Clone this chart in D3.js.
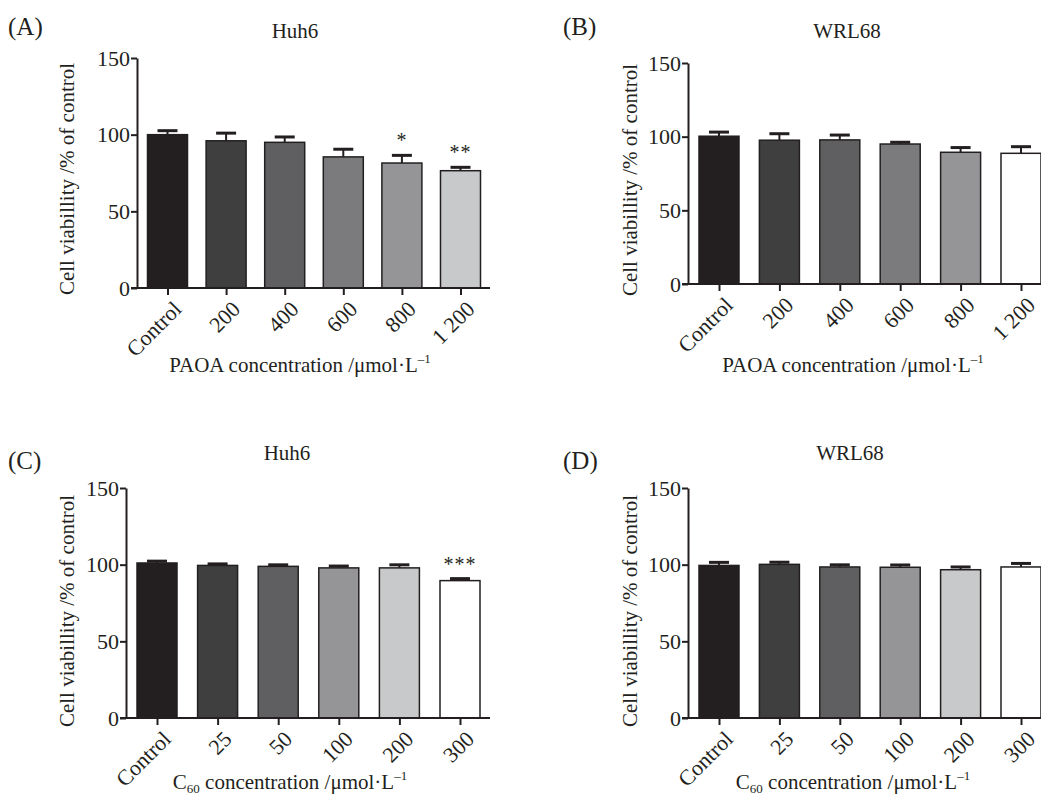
<!DOCTYPE html>
<html>
<head>
<meta charset="utf-8">
<script src="https://cdn.jsdelivr.net/npm/d3@7"></script>
<style>
body{margin:0;background:#fff;}
svg text{font-family:"Liberation Serif","Times New Roman",Times,"DejaVu Serif",serif !important;fill:#231f20;}
</style>
</head>
<body>
<svg id="fig" width="1041" height="798" font-family="Liberation Serif, serif"></svg>
<script>
// categories
var paoaCats=["Control","200","400","600","800","1 200"];
var c60Cats=["Control","25","50","100","200","300"];
// means (% of control) and upper error (SD)
var huhPaoa=[100,96,95,85.5,81.5,76.5];
var huhPaoaErr=[2.6,5,3.5,5,5,2.2];
var wrlPaoa=[100.3,97.6,97.8,95,89.4,88.7];
var wrlPaoaErr=[2.8,4.4,3.3,1.2,3.2,4.5];
var huhC60=[101.1,99.5,98.9,97.9,97.9,89.6];
var huhC60Err=[1.2,1,1,1.2,2,1.3];
var wrlC60=[99.5,100.2,98.5,98.3,96.7,98.5];
var wrlC60Err=[2,1.4,1.4,1.5,1.8,2.3];
// significance marks
var huhPaoaStars=["","","","","*","**"];
var huhC60Stars=["","","","","","***"];
var noStars=["","","","","",""];
var yTicks=[0,50,100,150];
// grey fills
var fillsA=["#231f20","#3f3f3f","#5f5f61","#7b7b7d","#959597","#c8c9cb"];
var fillsB=["#231f20","#3f3f3f","#5f5f61","#7b7b7d","#959597","#ffffff"];
var fillsC=["#231f20","#3f3f3f","#5f5f61","#959597","#c8c9cb","#ffffff"];

var svg=d3.select("#fig");
var ink="#231f20";
var serif="Liberation Serif";

function panel(p){
	var g=svg.append("g").attr("font-family",serif);
	var x=d3.scalePoint().domain(p.cats).range([p.c0,p.c1]);
	var y=d3.scaleLinear().domain([0,150]).range([p.y0,p.y150]);
	var bw=40;
	var data=p.cats.map(function(c,i){return {c:c,v:p.vals[i],e:p.errs[i],f:p.fills[i],s:p.stars[i]};});

	// bars
	g.selectAll("rect.bar").data(data).enter().append("rect")
		.attr("x",function(d){return x(d.c)-bw/2;})
		.attr("y",function(d){return y(d.v);})
		.attr("width",bw)
		.attr("height",function(d){return y(0)-y(d.v);})
		.attr("fill",function(d){return d.f;})
		.attr("stroke",ink).attr("stroke-width",1.5);
	// error bars (upper only)
	g.selectAll("line.stem").data(data).enter().append("line")
		.attr("x1",function(d){return x(d.c);}).attr("x2",function(d){return x(d.c);})
		.attr("y1",function(d){return y(d.v);}).attr("y2",function(d){return y(d.v+d.e);})
		.attr("stroke",ink).attr("stroke-width",2);
	g.selectAll("line.cap").data(data).enter().append("line")
		.attr("x1",function(d){return x(d.c)-10;}).attr("x2",function(d){return x(d.c)+10;})
		.attr("y1",function(d){return y(d.v+d.e);}).attr("y2",function(d){return y(d.v+d.e);})
		.attr("stroke",ink).attr("stroke-width",3);
	// stars
	g.selectAll("text.star").data(data.filter(function(d){return d.s;})).enter().append("text")
		.attr("x",function(d){return x(d.c);})
		.attr("y",function(d){return y(d.v+d.e)-8;})
		.attr("text-anchor","middle").attr("font-size",20)
		.style("letter-spacing","1px")
		.text(function(d){return d.s;});

	// y axis
	var ya=g.append("g").attr("transform","translate("+p.ax+",0)")
		.call(d3.axisLeft(y).tickValues(yTicks).tickSize(6).tickSizeOuter(0).tickPadding(1));
	ya.attr("font-family",serif).attr("font-size",22);
	ya.select(".domain").attr("stroke",ink).attr("stroke-width",2);
	ya.selectAll(".tick line").attr("stroke",ink).attr("stroke-width",2);
	ya.selectAll(".tick text").attr("fill",ink);

	// x axis
	g.append("line").attr("x1",p.ax-6).attr("x2",p.xEnd).attr("y1",y(0)).attr("y2",y(0))
		.attr("stroke",ink).attr("stroke-width",2);
	var xa=g.append("g").attr("transform","translate(0,"+y(0)+")")
		.call(d3.axisBottom(x).tickSize(7).tickSizeOuter(0).tickFormat(""));
	xa.select(".domain").remove();
	xa.selectAll(".tick line").attr("stroke",ink).attr("stroke-width",2);
	g.selectAll("text.xl").data(p.cats).enter().append("text")
		.attr("transform",function(c){return "translate("+(x(c)+10)+","+(y(0)+17)+") rotate(-45)";})
		.attr("text-anchor","end").attr("dy","0.35em").attr("font-size",22)
		.text(function(c){return c;});

	// titles
	g.append("text").attr("x",p.lx).attr("y",p.ly).attr("font-size",25).text(p.letter);
	g.append("text").attr("x",p.tx).attr("y",p.ty).attr("text-anchor","middle").attr("font-size",21).text(p.title);
	g.append("text").attr("transform","translate("+p.yx+","+p.yy+") rotate(-90)")
		.attr("text-anchor","middle").attr("font-size",21).text("Cell viabillity /% of control");
	var xt=g.append("text").attr("x",p.xtx).attr("y",p.xty).attr("text-anchor","middle").attr("font-size",21);
	if(p.c60){
		xt.append("tspan").text("C");
		xt.append("tspan").attr("font-size",13).attr("dy",4).text("60");
		xt.append("tspan").attr("dy",-4).text(" concentration /\u03bcmol\u00b7L");
	}else{
		xt.append("tspan").text("PAOA concentration /\u03bcmol\u00b7L");
	}
	xt.append("tspan").attr("font-size",13).attr("dy",-9).text("\u20131");
}

panel({cats:paoaCats,vals:huhPaoa,errs:huhPaoaErr,fills:fillsA,stars:huhPaoaStars,
	ax:137,y0:288,y150:58,c0:167.5,c1:460.5,xEnd:490,
	letter:"(A)",lx:8,ly:35,title:"Huh6",tx:295,ty:38,yx:74,yy:179,xtx:300,xty:372,c60:false});
panel({cats:paoaCats,vals:wrlPaoa,errs:wrlPaoaErr,fills:fillsB,stars:noStars,
	ax:688,y0:284,y150:63,c0:719,c1:1021,xEnd:1045,
	letter:"(B)",lx:563,ly:35,title:"WRL68",tx:847,ty:38,yx:637,yy:180,xtx:853,xty:372,c60:false});
panel({cats:c60Cats,vals:huhC60,errs:huhC60Err,fills:fillsC,stars:huhC60Stars,
	ax:126,y0:718,y150:488,c0:157,c1:460,xEnd:490,
	letter:"(C)",lx:8,ly:469,title:"Huh6",tx:287,ty:460,yx:74,yy:611,xtx:290,xty:789,c60:true});
panel({cats:c60Cats,vals:wrlC60,errs:wrlC60Err,fills:fillsC,stars:noStars,
	ax:688,y0:718,y150:488,c0:719,c1:1021,xEnd:1045,
	letter:"(D)",lx:563,ly:469,title:"WRL68",tx:850,ty:460,yx:637,yy:611,xtx:853,xty:789,c60:true});
</script>
</body>
</html>
